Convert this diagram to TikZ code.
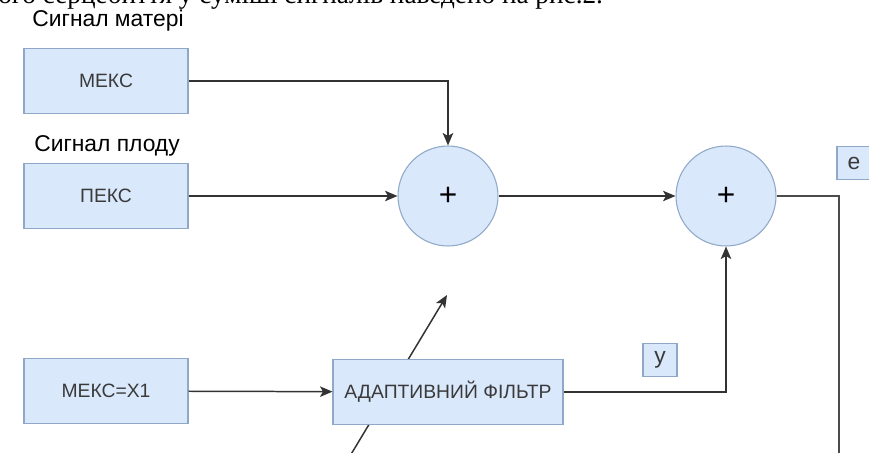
\documentclass[tikz,border=0pt]{standalone}
\usepackage{fontspec}
\setmainfont{Liberation Sans}
\newfontfamily\bodyserif{Liberation Serif}
\usepackage{tikz}
\usetikzlibrary{arrows.meta,positioning,calc}
\definecolor{blkfill}{HTML}{DAE8FC}
\definecolor{blkdraw}{HTML}{8FA8C8}
\definecolor{blktext}{HTML}{3A3A3A}
\tikzset{
  blk/.style={draw=blkdraw,fill=blkfill,line width=0.6pt,minimum width=3.28cm,minimum height=1.3cm,font=\fontsize{11}{13}\selectfont,text=blktext,inner sep=2pt},
  summ/.style={circle,draw=blkdraw,fill=blkfill,line width=0.6pt,minimum size=2cm,font=\fontsize{18}{20}\selectfont},
  tag/.style={draw=blkdraw,fill=blkfill,line width=0.6pt,minimum width=0.68cm,minimum height=0.66cm,inner sep=0pt,font=\fontsize{13}{15}\selectfont,text=blktext},
  ttl/.style={font=\fontsize{13}{15}\selectfont,inner sep=0pt},
  arr/.style={-{Stealth[length=2.5mm,width=2.1mm,inset=0.6mm]},line width=0.85pt,draw=black!80},
  ln/.style={line width=0.85pt,draw=black!70},
}
\begin{document}
\begin{tikzpicture}[x=0.02cm,y=-0.02cm]
\useasboundingbox (0,0) rectangle (869,453);
\clip (0,0) rectangle (869,453);
% text line of the page above the picture, cut at the top
\node[anchor=base west,font=\bodyserif\fontsize{15.5}{18}\selectfont,inner sep=0pt] (cap) at (-2,4) {ого серцебиття у суміші сигналів наведено на рис.2.};
% weight tuning arrow, passes under the filter
\coordinate (wa) at (350,456); \coordinate (wb) at (447,295);
\draw[arr] (wa) -- (wb);
% sources
\node[ttl] (tm) at (108,21) {Сигнал матері};
\node[blk] (meks) at (106,81) {МЕКС};
\node[ttl] (tp) at (107,146) {Сигнал плоду};
\node[blk] (peks) at (106,196) {ПЕКС};
\node[blk] (meksx) at (106,391) {МЕКС=Х1};
% adders and filter
\node[summ] (s1) at (448,196) {+};
\node[summ] (s2) at (726,196) {+};
\node[blk,minimum width=4.6cm] (af) at (448,392) {АДАПТИВНИЙ ФІЛЬТР};
\node[tag] (y) at (660,360) {y};
\node[tag] (e) at (854,163) {e};
\coordinate (eout) at (839,460);
% connections
\draw[arr] (meks.east) -| (s1.north);
\draw[arr] (peks) -- (s1);
\draw[arr] (s1) -- (s2);
\draw[arr] (meksx) -- (af);
\draw[arr] (af.east) -| (s2.south);
\draw[ln] (s2.east) -| (eout);
\end{tikzpicture}
\end{document}
